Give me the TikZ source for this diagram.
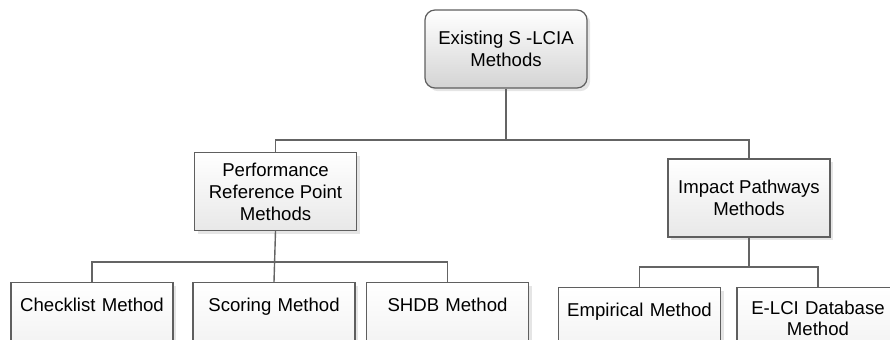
\documentclass[tikz,border=0pt]{standalone}
\usepackage{fontspec}
\setmainfont{Liberation Sans}
\definecolor{boxline}{RGB}{95,95,95}
\definecolor{connline}{RGB}{100,100,100}
\usepackage{tikz}
\usetikzlibrary{positioning,shadows,calc}

\begin{document}
\begin{tikzpicture}[x=0.5pt, y=-0.5pt,
    box/.style={draw=boxline, line width=0.6pt, top color=white, bottom color=black!9,
      general shadow={fill=black!10, shadow xshift=1.6pt, shadow yshift=-1.6pt},
      minimum width=81pt, minimum height=39pt, inner sep=3pt, align=center,
      font=\fontsize{9.3}{11}\selectfont},
    rootbox/.style={box, rounded corners=5pt, bottom color=black!17},
    leaf/.style={box, anchor=north, text width=75pt, text height=11.3pt, text depth=40pt},
    conn/.style={draw=connline, line width=0.7pt}]
  \useasboundingbox (0,0) rectangle (890,339);
  \clip (0,0) rectangle (890,339);
  % Top level
  \node[rootbox] (exist) at (506,49) {Existing S -LCIA\\Methods};
  % Method families
  \node[box] (perf) at (275.5,191.5) {Performance\\Reference Point\\Methods};
  \node[box] (impact) at (749,198) {Impact Pathways\\Methods};
  % Methods
  \node[leaf] (checklist) at (92,282) {Checklist Method};
  \node[leaf] (scoring) at (274,282) {Scoring Method};
  \node[leaf] (shdb) at (447.5,282) {SHDB Method};
  \node[leaf] (empirical) at (639.5,287) {Empirical Method};
  \node[leaf, text height=10.4pt, font=\fontsize{9.3}{10.6}\selectfont] (elci) at (818,287) {E-LCI Database\\Method};
  % Bus lines
  \coordinate (busA) at (0,140);
  \coordinate (busB) at (0,262);
  \coordinate (busC) at (0,267);
  \draw[conn] (exist.south) -- (exist.south |- busA);
  \draw[conn] (perf.north) -- (perf.north |- busA) -- (impact.north |- busA) -- (impact.north);
  \draw[conn] (perf.south) -- (scoring.north);
  \draw[conn] (checklist.north) -- (checklist.north |- busB) -- (shdb.north |- busB) -- (shdb.north);
  \draw[conn] (impact.south) -- (impact.south |- busC);
  \draw[conn] (empirical.north) -- (empirical.north |- busC) -- (elci.north |- busC) -- (elci.north);
\end{tikzpicture}
\end{document}
